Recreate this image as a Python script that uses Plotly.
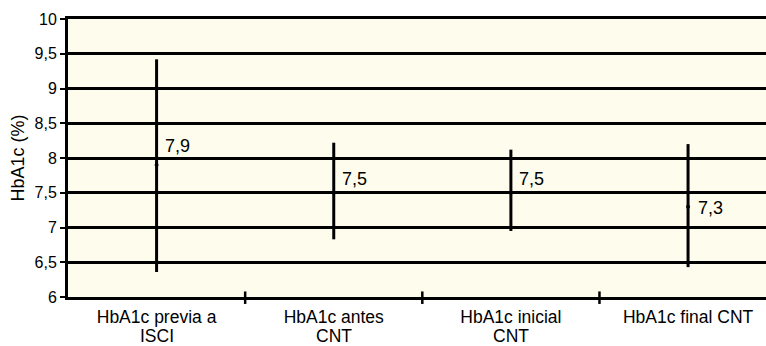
import plotly.graph_objects as go

category_line1 = ["HbA1c previa a", "HbA1c antes", "HbA1c inicial", "HbA1c final CNT"]
category_line2 = ["ISCI", "CNT", "CNT", ""]
means = [7.9, 7.5, 7.5, 7.3]
upper = [9.42, 8.22, 8.12, 8.2]
lower = [6.36, 6.83, 6.95, 6.43]
point_labels = ["7,9", "7,5", "7,5", "7,3"]
label_yshift = [19, 14, 14, -1]
label_xshift = [6, 6, 6, 8]
ytick_vals = [6, 6.5, 7, 7.5, 8, 8.5, 9, 9.5, 10]
ytick_text = ["6", "6,5", "7", "7,5", "8", "8,5", "9", "9,5", "10"]

xs = list(range(len(category_line1)))
fig = go.Figure()
fig.add_trace(go.Scatter(
    x=xs, y=means, mode="markers",
    marker=dict(color="black", size=4),
    error_y=dict(type="data", symmetric=False,
                 array=[u - m for u, m in zip(upper, means)],
                 arrayminus=[m - l for m, l in zip(means, lower)],
                 color="black", thickness=3, width=0),
    showlegend=False, hoverinfo="skip",
))
for x, m, t, ys, xsh in zip(xs, means, point_labels, label_yshift, label_xshift):
    fig.add_annotation(x=x, y=m, text=t, showarrow=False, xanchor="left",
                       xshift=xsh, yshift=ys, font=dict(size=18, color="black"))
# second line of category labels
for x, t in zip(xs, category_line2):
    if t:
        fig.add_annotation(x=x, y=0, xref="x", yref="paper", text=t, showarrow=False,
                           xanchor="center", yanchor="middle", yshift=-39,
                           font=dict(size=17.5, color="black"))

fig.update_layout(
    width=766, height=346,
    margin=dict(l=68, r=0, t=19, b=49),
    paper_bgcolor="white", plot_bgcolor="#FEFCEC",
    font=dict(family="Liberation Sans, Arial, sans-serif", size=16, color="black"),
)
fig.update_xaxes(
    range=[-0.5, 3.44], tickvals=xs, ticktext=category_line1,
    showgrid=False, zeroline=False, showline=True, linecolor="black", linewidth=3,
    mirror=True, ticks="", tickfont=dict(size=17.5), automargin=False,
    ticklabelstandoff=2,
)
# boundary ticks between categories
for b in [0.5, 1.5, 2.5]:
    fig.add_shape(type="line", xref="x", yref="paper", x0=b, x1=b, y0=-0.025, y1=0.02,
                  line=dict(color="black", width=2.5))
fig.update_yaxes(
    range=[6, 10], tickvals=ytick_vals, ticktext=ytick_text,
    showgrid=True, gridcolor="black", gridwidth=2.5,
    showline=True, linecolor="black", linewidth=3,
    ticks="outside", ticklen=5, tickwidth=2, tickcolor="black",
    zeroline=False, tickfont=dict(size=16), automargin=False,
    title=dict(text="HbA1c (%)", font=dict(size=18), standoff=6),
)
fig.write_html("out.html", config={"displayModeBar": False},
               post_script="document.body.style.margin='0';document.body.style.overflow='hidden';")
